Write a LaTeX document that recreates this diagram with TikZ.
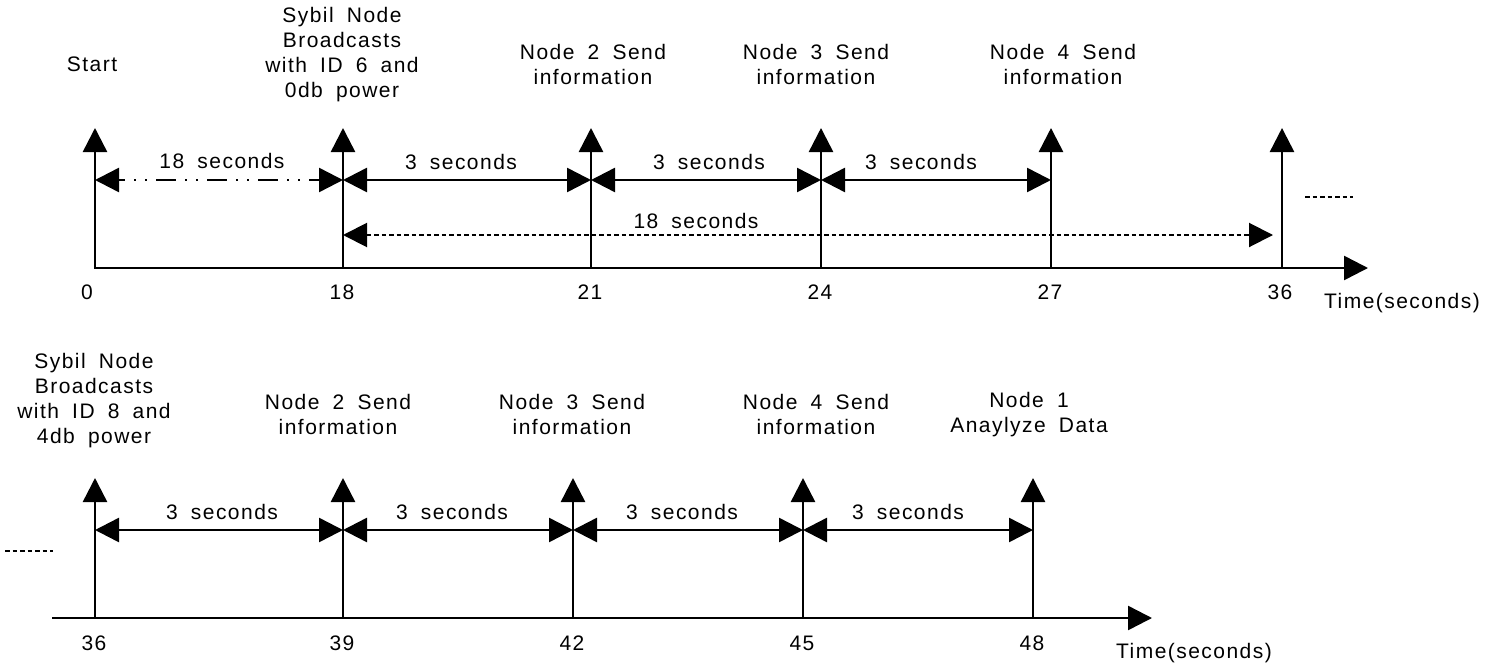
\documentclass[tikz,border=0pt]{standalone}
\usepackage{fontspec}
\setmainfont{Liberation Sans}[LetterSpace=7,WordSpace=1.8]
\usetikzlibrary{arrows.meta}
\begin{document}
\begin{tikzpicture}[x=1pt,y=-1pt,line width=2.5pt,miter limit=10,
  lbl/.style={font=\fontsize{21}{25}\selectfont,inner sep=0pt,align=center},
  uptip/.style={-{Triangle[length=24pt,width=24pt]}},
  twotip/.style={{Triangle[length=24pt,width=24pt]}-{Triangle[length=24pt,width=24pt]}},
  smalldash/.style={line width=2pt,dash pattern=on 4.5pt off 3pt}]
\useasboundingbox (0,0) rectangle (1490,666);
% ---------- top row ----------
\foreach \n/\x in {a/95,b/343,c/591,d/821,e/1051,f/1282}{
  \coordinate (tbase\n) at (\x,268);
  \coordinate (ttop\n) at (\x,128);
  \coordinate (tmid\n) at (\x,180);
}
\coordinate (taxisend) at (1368,268);
\draw[twotip] (ttopa) -- (tbasea) -- (taxisend);
\foreach \n in {b,c,d,e,f}{\draw[uptip] (tbase\n) -- (ttop\n);}
\draw[twotip,dash pattern=on 2pt off 9pt on 2pt off 9pt on 20pt off 9pt,dash phase=-16pt] (tmida) -- (tmidb);
\draw[twotip] (tmidb) -- (tmidc);
\draw[twotip] (tmidc) -- (tmidd);
\draw[twotip] (tmidd) -- (tmide);
\coordinate (tdotL) at (343,235);
\coordinate (tdotR) at (1273,235);
\draw[twotip,line width=2pt,dash pattern=on 4.5pt off 3pt] (tdotL) -- (tdotR);
\coordinate (tcontA) at (1305,197);
\coordinate (tcontB) at (1353,197);
\draw[smalldash] (tcontA) -- (tcontB);
\node[lbl] (lstart) at (92,64) {Start};
\node[lbl] (lsyb1) at (342,54.5) {Sybil Node\\Broadcasts\\with ID 6 and\\0db power};
\node[lbl] (ln2a) at (593,64) {Node 2 Send\\information};
\node[lbl] (ln3a) at (816,64) {Node 3 Send\\information};
\node[lbl] (ln4a) at (1063,64) {Node 4 Send\\information};
\node[lbl] (s18a) at (222,161) {18 seconds};
\node[lbl] (s3a) at (461,162) {3 seconds};
\node[lbl] (s3b) at (709,162) {3 seconds};
\node[lbl] (s3c) at (921,162) {3 seconds};
\node[lbl] (s18b) at (696,221) {18 seconds};
\node[lbl] (k0) at (87,292) {0};
\node[lbl] (k18) at (342,292) {18};
\node[lbl] (k21) at (590,292) {21};
\node[lbl] (k24) at (820,292) {24};
\node[lbl] (k27) at (1050,292) {27};
\node[lbl] (k36a) at (1280,292) {36};
\node[lbl] (timea) at (1402,303) {Time(seconds)};
% ---------- bottom row ----------
\foreach \n/\x in {a/95,b/343,c/573,d/803,e/1033}{
  \coordinate (bbase\n) at (\x,618);
  \coordinate (btop\n) at (\x,478);
  \coordinate (bmid\n) at (\x,530);
}
\coordinate (baxisstart) at (52,618);
\coordinate (baxisend) at (1152,618);
\draw[uptip] (baxisstart) -- (baxisend);
\foreach \n in {a,b,c,d,e}{\draw[uptip] (bbase\n) -- (btop\n);}
\draw[twotip] (bmida) -- (bmidb);
\draw[twotip] (bmidb) -- (bmidc);
\draw[twotip] (bmidc) -- (bmidd);
\draw[twotip] (bmidd) -- (bmide);
\coordinate (bcontA) at (5,551);
\coordinate (bcontB) at (53,551);
\draw[smalldash] (bcontA) -- (bcontB);
\node[lbl] (lsyb2) at (94,400.5) {Sybil Node\\Broadcasts\\with ID 8 and\\4db power};
\node[lbl] (ln2b) at (338,414.5) {Node 2 Send\\information};
\node[lbl] (ln3b) at (572,414.5) {Node 3 Send\\information};
\node[lbl] (ln4b) at (816,414.5) {Node 4 Send\\information};
\node[lbl] (ln1b) at (1029,414.5) {Node 1\\Anaylyze Data};
\node[lbl] (s3d) at (222,512) {3 seconds};
\node[lbl] (s3e) at (452,512) {3 seconds};
\node[lbl] (s3f) at (682,512) {3 seconds};
\node[lbl] (s3g) at (908,512) {3 seconds};
\node[lbl] (k36b) at (94,643) {36};
\node[lbl] (k39) at (342,643) {39};
\node[lbl] (k42) at (572,643) {42};
\node[lbl] (k45) at (802,643) {45};
\node[lbl] (k48) at (1032,643) {48};
\node[lbl] (timeb) at (1194,653) {Time(seconds)};
\end{tikzpicture}
\end{document}
